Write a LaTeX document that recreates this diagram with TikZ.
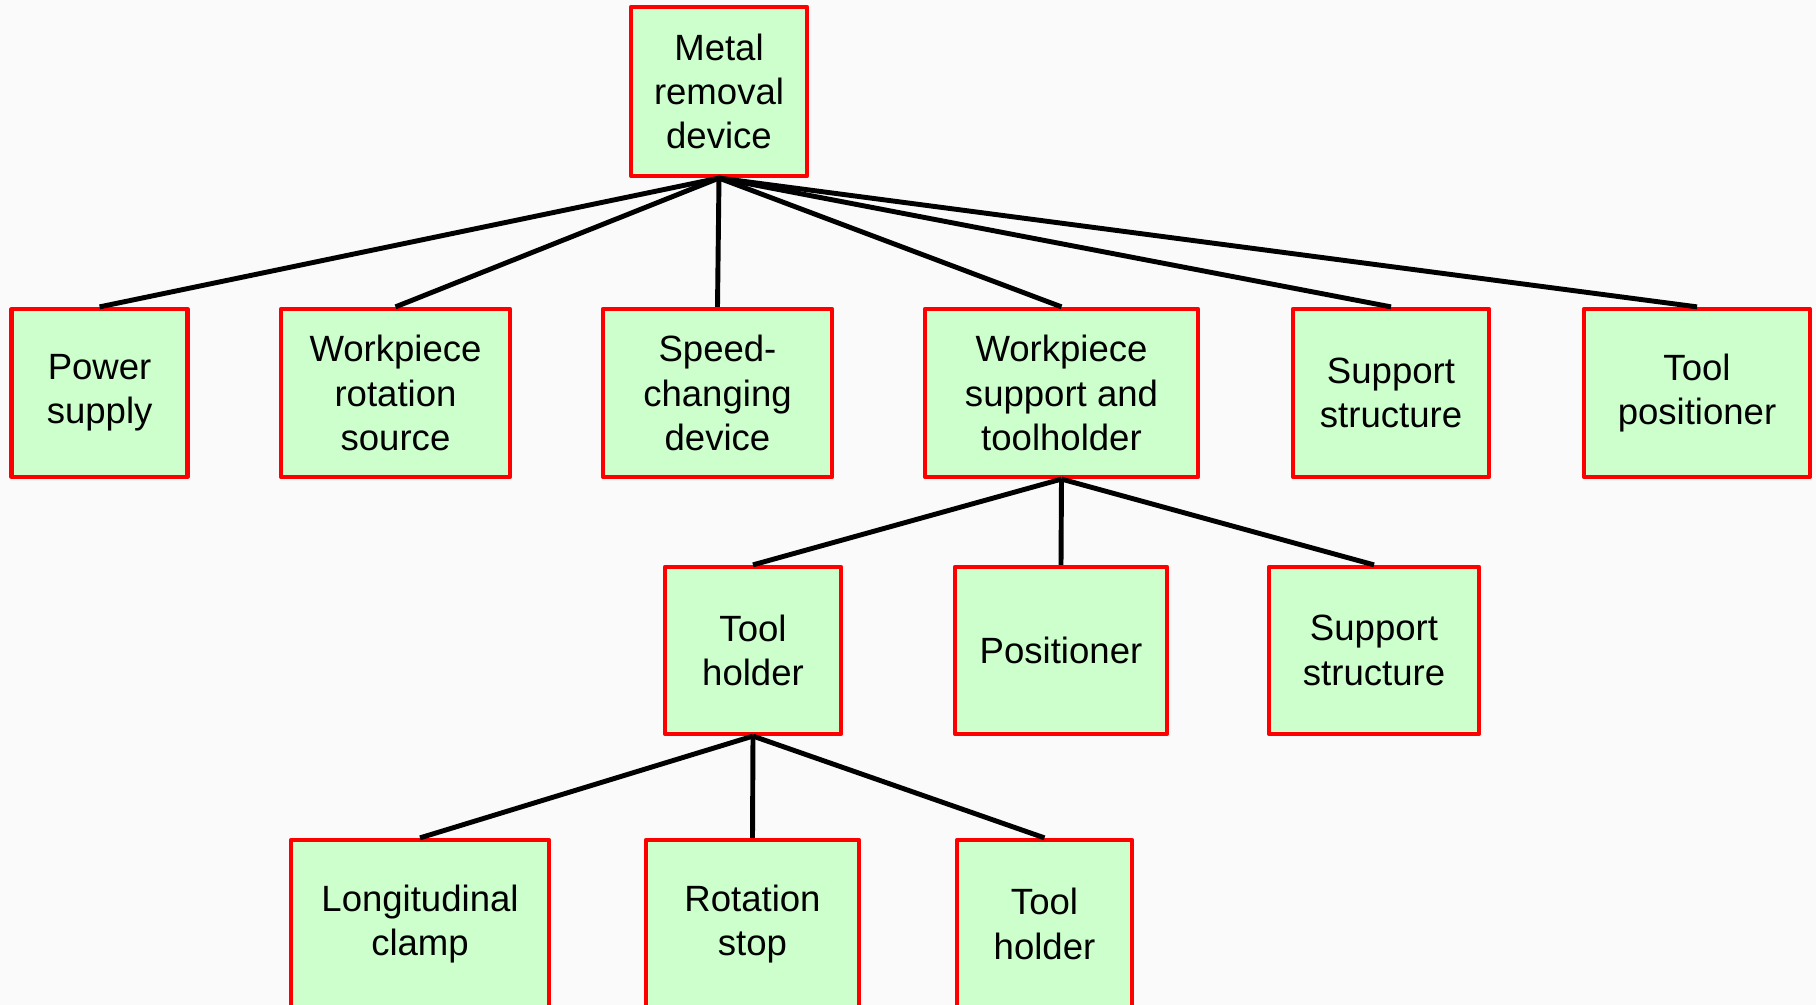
\documentclass[tikz,border=0pt]{standalone}
\usepackage{fontspec}
\setmainfont{Liberation Sans}
\definecolor{boxgreen}{HTML}{CCFFCC}
\begin{document}
\begin{tikzpicture}[x=0.1mm, y=-0.1mm, line join=round,
		box/.style={draw=red, fill=boxgreen, line width=1.2pt, align=center, inner sep=0pt,
			font=\fontsize{10.4}{12.6}\selectfont},
		link/.style={line width=1.4pt}]
			\useasboundingbox (0,0) rectangle (1816,1005);
			\fill[black!2] (0,0) rectangle (1816,1005);
			% top
			\node[box, minimum width=17.6mm, minimum height=16.9mm] (metal) at (719,91.5) {Metal\\removal\\device};
			% second row
			\node[box, minimum width=17.6mm, minimum height=16.8mm] (power) at (99.6,393) {Power\\supply};
			\node[box, minimum width=22.9mm, minimum height=16.8mm] (rotsrc) at (395.5,393) {Workpiece\\rotation\\source};
			\node[box, minimum width=22.9mm, minimum height=16.8mm] (speed) at (717.5,393) {Speed-\\changing\\device};
			\node[box, minimum width=27.3mm, minimum height=16.8mm] (wpsupp) at (1061.5,393) {Workpiece\\support and\\toolholder};
			\node[box, minimum width=19.6mm, minimum height=16.8mm] (struct) at (1391,393) {Support\\structure};
			\node[box, minimum width=22.6mm, minimum height=16.8mm] (toolpos) at (1697,393) {Tool\\positioner};
			% third row
			\node[box, minimum width=17.6mm, minimum height=16.7mm] (holder) at (753,650.5) {Tool\\holder};
			\node[box, minimum width=21.2mm, minimum height=16.7mm] (posit) at (1061,650.5) {Positioner};
			\node[box, minimum width=21.0mm, minimum height=16.7mm] (struct2) at (1374,650.5) {Support\\structure};
			% fourth row
			\node[box, minimum width=25.8mm, minimum height=16.8mm] (clamp) at (420,924) {Longitudinal\\clamp};
			\node[box, minimum width=21.3mm, minimum height=16.8mm] (stop) at (752.5,924) {Rotation\\stop};
			\node[box, minimum width=17.5mm, minimum height=16.8mm] (holder2) at (1044.5,924) {Tool\\holder};
			% links
			\foreach \c in {power,rotsrc,speed,wpsupp,struct,toolpos}
				\draw[link] (metal.south)--(\c.north);
			\foreach \c in {holder,posit,struct2}
				\draw[link] (wpsupp.south)--(\c.north);
			\foreach \c in {clamp,stop,holder2}
				\draw[link] (holder.south)--(\c.north);
	\end{tikzpicture}
\end{document}
